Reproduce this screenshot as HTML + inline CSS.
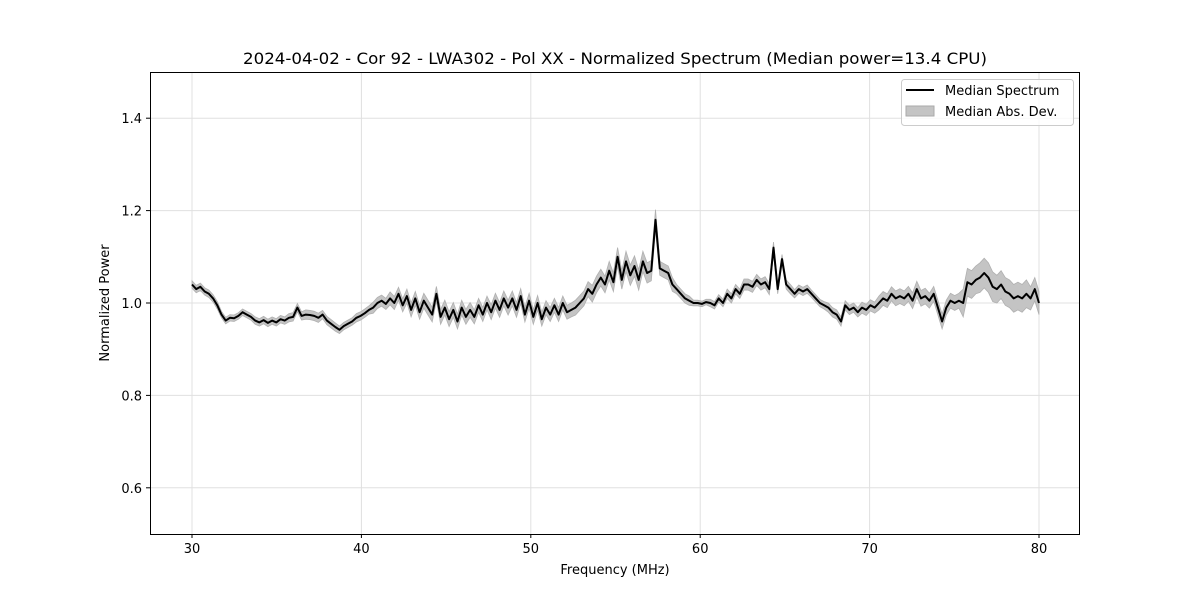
<!DOCTYPE html>
<html><head><meta charset="utf-8"><style>
html,body{margin:0;padding:0;background:#fff;}
svg text{font-family:"DejaVu Sans","Liberation Sans",sans-serif;fill:#000;}
</style></head><body>
<svg id="chart" width="1200" height="600" viewBox="0 0 1200 600" xmlns="http://www.w3.org/2000/svg">
<rect x="0" y="0" width="1200" height="600" fill="#fff"/>
<g id="grid"></g>
<g id="band"></g>
<g id="line"></g>
<rect x="150.5" y="72.5" width="929" height="462" fill="none" stroke="#000" stroke-width="1"/>
<g id="ticks"></g>
<text x="615" y="64" text-anchor="middle" font-size="16" textLength="744" lengthAdjust="spacingAndGlyphs">2024-04-02 - Cor 92 - LWA302 - Pol XX - Normalized Spectrum (Median power=13.4 CPU)</text>
<text x="615" y="574" text-anchor="middle" font-size="13">Frequency (MHz)</text>
<text x="0" y="0" transform="translate(109,303) rotate(-90)" text-anchor="middle" font-size="13">Normalized Power</text>
<g>
<rect x="901.5" y="79.5" width="172" height="46" rx="3" fill="#fff" fill-opacity="0.8" stroke="#ccc"/>
<line x1="906" y1="90" x2="934" y2="90" stroke="#000" stroke-width="2"/>
<text x="945" y="95" font-size="13">Median Spectrum</text>
<rect x="906" y="106" width="28" height="10" fill="#c4c4c4" stroke="#aaa"/>
<text x="945" y="116" font-size="13">Median Abs. Dev.</text>
</g>
</svg>
<script>
const xTicks=[30,40,50,60,70,80];
const yTicks=[0.6,0.8,1.0,1.2,1.4];
const yTickLabels=["0.6","0.8","1.0","1.2","1.4"];
const freqStart=30, freqEnd=80;
const median=[1.04,1.03,1.035,1.025,1.02,1.01,0.995,0.975,0.962,0.968,0.967,0.972,0.98,0.975,0.97,0.962,0.958,0.963,0.957,0.962,0.958,0.965,0.962,0.968,0.97,0.99,0.972,0.975,0.974,0.972,0.968,0.975,0.962,0.955,0.948,0.942,0.95,0.955,0.96,0.968,0.972,0.978,0.985,0.99,1.0,1.005,0.998,1.01,1.0,1.02,0.995,1.015,0.985,1.01,0.98,1.005,0.99,0.975,1.02,0.97,0.99,0.965,0.985,0.96,0.99,0.97,0.985,0.97,0.995,0.975,1.0,0.98,1.005,0.985,1.01,0.99,1.01,0.985,1.015,0.975,1.005,0.97,1.0,0.965,0.99,0.975,0.995,0.975,1.0,0.98,0.985,0.99,1.0,1.01,1.03,1.02,1.04,1.055,1.04,1.07,1.045,1.1,1.05,1.09,1.06,1.08,1.05,1.09,1.065,1.07,1.18,1.075,1.07,1.065,1.04,1.03,1.02,1.01,1.005,1.0,1.0,0.998,1.002,1.0,0.995,1.01,1.0,1.02,1.01,1.03,1.02,1.04,1.04,1.035,1.05,1.04,1.045,1.03,1.12,1.03,1.095,1.04,1.03,1.02,1.03,1.025,1.03,1.02,1.01,1.0,0.995,0.99,0.98,0.975,0.96,0.995,0.985,0.99,0.98,0.99,0.985,0.995,0.99,1.0,1.01,1.005,1.02,1.01,1.015,1.01,1.02,1.005,1.03,1.01,1.015,1.005,1.02,0.99,0.96,0.99,1.005,1.0,1.005,1.0,1.045,1.04,1.05,1.055,1.065,1.055,1.035,1.03,1.04,1.025,1.02,1.01,1.015,1.01,1.02,1.01,1.03,1.0];
const madPerMHz=[0.008,0.008,0.007,0.007,0.008,0.008,0.009,0.01,0.009,0.008,0.009,0.012,0.014,0.015,0.016,0.016,0.016,0.015,0.016,0.016,0.016,0.015,0.015,0.016,0.018,0.02,0.022,0.022,0.015,0.01,0.006,0.008,0.01,0.012,0.012,0.01,0.009,0.008,0.01,0.01,0.012,0.015,0.016,0.017,0.016,0.016,0.03,0.032,0.03,0.03,0.025];
const L=150,R=1080,T=72,B=534,xMin=27.52,xMax=82.42,yMin=0.5,yMax=1.5;
const X=v=>L+(v-xMin)/(xMax-xMin)*(R-L);
const Y=v=>B-(v-yMin)/(yMax-yMin)*(B-T);
const NS='http://www.w3.org/2000/svg';
function mk(tag,attrs,parent){const e=document.createElementNS(NS,tag);for(const k in attrs)e.setAttribute(k,attrs[k]);parent.appendChild(e);return e;}
const grid=document.getElementById('grid'),ticks=document.getElementById('ticks');
xTicks.forEach(t=>{
 const g=mk('line',{x1:X(t),x2:X(t),y1:T,y2:B,stroke:'#e0e0e0','stroke-width':1},grid);
 
 
 const tk=mk('line',{x1:X(t),x2:X(t),y1:B,y2:B+4,stroke:'#000'},ticks);
 
 
 const tx=mk('text',{x:X(t),y:B+19,'text-anchor':'middle','font-size':13},ticks);
 tx.textContent=String(t);
 
 
});
yTicks.forEach((t,i)=>{
 const g=mk('line',{x1:L,x2:R,y1:Y(t),y2:Y(t),stroke:'#e0e0e0','stroke-width':1},grid);
 
 
 const tk=mk('line',{x1:L-4,x2:L,y1:Y(t),y2:Y(t),stroke:'#000'},ticks);
 
 
 const tx=mk('text',{x:L-8,y:Y(t)+5,'text-anchor':'end','font-size':13},ticks);
 tx.textContent=yTickLabels[i];
 
 
});
const n=median.length,step=(freqEnd-freqStart)/(n-1);
const fr=median.map((_,i)=>freqStart+i*step);
const mad=fr.map(f=>madPerMHz[Math.min(madPerMHz.length-1,Math.round(f-freqStart))]);
let up=[],dn=[],ln=[];
for(let i=0;i<n;i++){
 up.push(X(fr[i]).toFixed(1)+','+Y(median[i]+mad[i]).toFixed(1));
 dn.unshift(X(fr[i]).toFixed(1)+','+Y(median[i]-mad[i]).toFixed(1));
 ln.push(X(fr[i]).toFixed(1)+','+Y(median[i]).toFixed(1));
}
const band=mk('polygon',{points:up.concat(dn).join(' '),fill:'#c4c4c4',stroke:'#b0b0b0','stroke-width':0.8},document.getElementById('band'));


const pl=mk('polyline',{points:ln.join(' '),fill:'none',stroke:'#000','stroke-width':2,'stroke-linejoin':'round'},document.getElementById('line'));


</script>
</body></html>
